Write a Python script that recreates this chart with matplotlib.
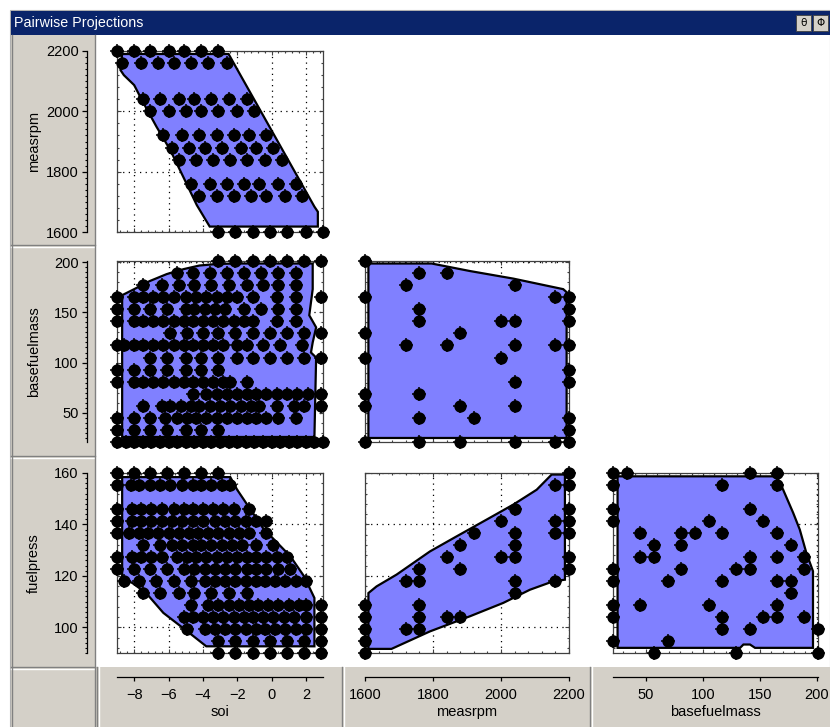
import matplotlib
matplotlib.use("Agg")
import matplotlib.pyplot as plt
from matplotlib.patches import Rectangle
from matplotlib.lines import Line2D
from matplotlib.ticker import MultipleLocator, AutoMinorLocator

W, H = 830, 727

# ---- axis ranges and labels
soi_lim = (-9, 3)
rpm_lim = (1600, 2200)
bf_lim = (21, 201)
fp_lim = (90, 160)

# ---- soi vs measrpm (rows of constant measrpm)
p1_rpm = [2200, 2160, 2040, 2000, 1920, 1880, 1840, 1760, 1720, 1600]
p1_soi = [
    [-9.0, -8.0, -7.1, -6.0, -5.1, -4.1, -3.1],
    [-8.7, -7.6, -6.6, -5.7, -4.7, -3.7, -2.6],
    [-7.5, -6.5, -5.4, -4.5, -3.5, -2.5, -1.4],
    [-7.1, -6.0, -5.0, -4.1, -3.1, -2.0, -1.0],
    [-6.3, -5.2, -4.2, -3.2, -2.2, -1.3, -0.3],
    [-5.8, -4.8, -3.9, -2.9, -1.8, -0.9, 0.1],
    [-5.4, -4.4, -3.4, -2.4, -1.4, -0.4, 0.6],
    [-4.7, -3.6, -2.6, -1.6, -0.7, 0.4, 1.4],
    [-4.2, -3.2, -2.2, -1.2, -0.3, 0.8, 1.8],
    [-3.1, -2.1, -1.1, -0.1, 0.9, 2.0, 3.0],
]
p1_hull_soi = [-8.7, -2.5, 2.5, 2.7, 2.7, -3.6, -4.35, -5.1, -5.9, -6.7, -7.5, -8.0, -8.6, -8.8]
p1_hull_rpm = [2190, 2190, 1684, 1667, 1618, 1618, 1689, 1778, 1872, 1949, 2032, 2087, 2120, 2137]

# ---- soi vs basefuelmass (rows of constant basefuelmass)
p2_bf = [201, 189, 177, 165, 153, 141, 129, 117, 105, 93, 81, 69, 57, 45, 33, 21]
p2_soi = [
    [-3.1, -2.1, -1.1, -0.1, 0.9, 1.9, 2.9],
    [-5.5, -4.6, -3.6, -2.6, -1.6, -0.6, 0.4, 1.4],
    [-7.5, -6.4, -5.4, -4.5, -3.5, -2.5, -1.4, -0.5, 0.4, 1.4],
    [-9.0, -8.0, -7.5, -6.9, -6.3, -5.7, -5.0, -4.4, -3.8, -3.2, -2.6, -2.0, -1.1, 0.3, 1.4, 2.9],
    [-9.0, -8.0, -7.1, -6.1, -5.0, -4.5, -3.9, -3.3, -2.7, -1.6, -0.6, 0.4, 1.4],
    [-9.0, -8.0, -7.5, -6.9, -6.3, -5.7, -5.1, -4.6, -4.0, -3.4, -2.8, -2.2, -1.6, -1.1, 0.3, 1.4],
    [-5.9, -4.9, -4.0, -3.1, -2.1, -1.1, -0.1, 0.9, 1.9, 2.9],
    [-9.0, -8.6, -8.0, -7.5, -6.9, -6.3, -5.7, -5.1, -4.6, -4.0, -3.4, -2.8, -2.0, -1.4, -0.5, 0.5, 1.8],
    [-7.1, -6.1, -5.0, -4.1, -3.1, -2.0, -1.1, -0.1, 0.9, 1.9, 2.9],
    [-9.0, -8.0, -7.1, -6.1, -5.0, -4.1, -3.1],
    [-9.0, -8.0, -7.5, -6.9, -6.3, -5.7, -5.1, -4.6, -4.0, -3.4, -2.8, -2.4, -1.4],
    [-4.6, -3.8, -3.2, -2.6, -2.0, -1.4, -0.9, -0.3, 0.3, 0.9, 1.5, 2.1, 2.9],
    [-7.5, -6.4, -5.9, -5.3, -4.7, -4.2, -3.6, -3.0, -2.4, -1.8, -1.2, -0.7, 0.3, 1.3, 1.9, 2.9],
    [-9.0, -8.0, -7.1, -6.2, -5.5, -4.9, -4.4, -3.8, -3.2, -2.6, -2.0, -1.4, -0.9, -0.3, 0.4, 1.4],
    [-9.0, -8.0, -7.1, -6.1, -5.0, -4.1, -3.1],
    [-9.0, -8.5, -8.0, -7.5, -7.0, -6.5, -6.0, -5.5, -5.0, -4.5, -4.0, -3.5, -3.0,
     -2.5, -2.0, -1.5, -1.0, -0.5, 0.0, 0.5, 1.0, 1.5, 2.0, 2.5, 3.0],
]
p2_hull_soi = [-8.7, -8.7, -8.0, -7.1, -6.1, -5.1, -4.2, -3.2, -2.2, 2.4, 2.4, 2.2, 2.6, 2.4, 2.3, 2.6, 2.5]
p2_hull_bf = [26, 167, 173, 181, 188, 193, 196.5, 198, 198.5, 198.5, 173, 147, 135, 120, 110, 105, 26]

# ---- soi vs fuelpress (rows of constant fuelpress)
p3_fp = [160, 155.3, 146, 141.3, 136.7, 132, 127.3, 122.7, 118, 113.3, 108.7, 104, 99.3, 94.7, 90]
p3_soi = [
    [-9.0, -8.0, -7.1, -6.1, -5.1, -4.1, -3.1],
    [-9.0, -8.2, -7.7, -7.1, -6.5, -5.9, -5.2, -4.6, -4.1, -3.5, -2.9, -2.4],
    [-9.0, -8.1, -7.6, -7.0, -6.4, -5.7, -5.1, -4.6, -4.0, -3.4, -2.8, -2.2, -1.3],
    [-9.0, -8.1, -7.6, -7.0, -6.4, -5.8, -5.2, -4.6, -4.0, -3.3, -2.7, -2.1, -1.5, -0.9, -0.3],
    [-9.0, -8.3, -7.7, -7.2, -6.6, -6.0, -5.4, -4.8, -4.3, -3.7, -3.1, -2.5, -1.9, -1.3, -0.3],
    [-7.5, -6.5, -5.8, -5.2, -4.6, -4.1, -3.5, -2.9, -2.3, -1.7, -0.9, 0.1],
    [-9.0, -8.1, -7.6, -7.0, -6.4, -5.5, -4.9, -4.4, -3.8, -3.2, -2.6, -2.0, -1.4, -0.9, -0.3, 0.3, 0.9],
    [-9.0, -8.0, -7.1, -6.1, -5.1, -4.5, -3.9, -3.3, -2.7, -2.1, -1.4, -0.9, -0.3, 0.4, 1.1],
    [-8.6, -7.7, -6.7, -5.7, -4.7, -3.9, -3.3, -2.7, -2.1, -1.5, -0.9, -0.4, 0.2, 0.8, 1.4, 2.0],
    [-7.5, -6.5, -5.4, -4.5, -3.5, -2.5, -1.4],
    [-4.7, -3.7, -3.1, -2.5, -1.9, -1.3, -0.8, -0.2, 0.4, 1.0, 1.6, 2.0, 2.9],
    [-5.1, -4.6, -4.0, -3.4, -2.8, -2.2, -1.6, -1.1, -0.5, 0.1, 0.7, 1.3, 2.0, 2.9],
    [-4.9, -3.9, -3.3, -2.7, -2.1, -1.5, -0.9, -0.4, 0.2, 0.8, 1.4, 2.0, 2.9],
    [-3.1, -2.1, -1.1, -0.1, 0.9, 1.9, 2.9],
    [-3.1, -2.1, -1.1, -0.1, 0.9, 1.9, 2.9],
]
p3_hull_soi = [-8.7, -2.4, -2.0, -0.5, 1.1, 1.9, 2.5, 2.5, -3.8, -4.9, -6.3, -7.3, -8.1, -8.7]
p3_hull_fp = [158.4, 158.4, 153.5, 138.6, 127.6, 119.8, 111.4, 92.6, 92.6, 98.4, 105.6, 113.3, 117.2, 119.2]

# ---- measrpm vs basefuelmass
p4_rpm = [1600, 1760, 1840, 1720, 2040, 2160, 1600, 2200, 1760, 2200, 1760, 2000, 2040, 2200,
          1600, 1880, 1720, 1840, 2040, 2160, 2200, 1600, 2000, 2200, 2040, 2200, 1600, 1760,
          1600, 1880, 2040, 1760, 1920, 2200, 2200, 1600, 1760, 1880, 2040, 2160, 2200]
p4_bf = [201, 189, 189, 177, 177, 165, 165, 165, 153, 153, 141, 141, 141, 141,
         129, 129, 117, 117, 117, 117, 117, 105, 105, 93, 81, 81, 69, 69,
         57, 57, 57, 45, 45, 45, 33, 21, 21, 21, 21, 21, 21]
p4_hull_rpm = [1610, 1796, 1909, 2036, 2183, 2193, 2193, 1610]
p4_hull_bf = [198.5, 198.5, 191, 183.5, 173, 170, 25, 25]

# ---- measrpm vs fuelpress
p5_rpm = [2200, 2160, 2200, 2200, 2040, 2160, 2200, 2000, 2160, 2200, 2040, 1920, 1880,
          2040, 1840, 2000, 2040, 2200, 1880, 2200, 1760, 1720, 1760, 2160, 2040, 2040,
          1760, 1600, 1600, 1760, 1840, 1880, 1600, 1720, 1760, 1600, 1600]
p5_fp = [160, 155.3, 155.3, 146, 146, 141.3, 141.3, 141.3, 136.7, 136.7, 136.7, 136.7, 132,
         132, 127.3, 127.3, 127.3, 127.3, 122.7, 122.7, 122.7, 118, 118, 118, 118, 113.3,
         108.7, 108.7, 104, 104, 104, 104, 99.3, 99.3, 99.3, 94.7, 90]
p5_hull_rpm = [1610, 1678, 1791, 1909, 2007, 2085, 2154, 2188, 2188, 2149, 2105, 2036, 1958,
               1870, 1791, 1693, 1634, 1610]
p5_hull_fp = [91.6, 91.6, 98.4, 104.3, 109.5, 114.6, 117.9, 118.5, 159.4, 159.4, 153.5, 147.7,
              141.9, 135.4, 129.5, 120.5, 115.9, 113.3]

# ---- basefuelmass vs fuelpress
p6_bf = [21, 33, 141, 165, 21, 117, 165, 141, 21, 21, 105, 153, 45, 81, 93, 117, 165,
         57, 81, 177, 45, 57, 141, 165, 189, 21, 81, 129, 141, 189, 21, 69, 117, 165, 177,
         177, 21, 45, 105, 165, 21, 117, 153, 165, 189, 117, 141, 201, 21, 69, 57, 129, 201]
p6_fp = [160, 160, 160, 160, 155.3, 155.3, 155.3, 146, 146, 141.3, 141.3, 141.3,
         136.7, 136.7, 136.7, 136.7, 136.7, 132, 132, 132, 127.3, 127.3, 127.3, 127.3, 127.3,
         122.7, 122.7, 122.7, 122.7, 122.7, 118, 118, 118, 118, 118, 113.3,
         108.7, 108.7, 108.7, 108.7, 104, 104, 104, 104, 104, 99.3, 99.3, 99.3,
         94.7, 94.7, 90, 90, 90]
p6_hull_bf = [25, 164.6, 170.4, 179.2, 185, 190.8, 196.6, 196.6, 145.7, 141.3, 135.5, 132.6, 25]
p6_hull_fp = [158.7, 158.7, 153.5, 144.5, 138, 128.9, 121.8, 92, 92, 93.3, 93.3, 92, 92]

GRAY = '#d4d0c8'
DARK = '#808080'
FILL = '#8080ff'
FONT = 'Liberation Sans'


def box(x0, y0, x1, y1):
    return [x0 / W, 1 - y1 / H, (x1 - x0) / W, (y1 - y0) / H]


def rect(fig, x0, y0, x1, y1, **kw):
    fig.add_artist(Rectangle((x0 / W, 1 - y1 / H), (x1 - x0) / W, (y1 - y0) / H,
                             transform=fig.transFigure, zorder=-10, **kw))


def hline(fig, x0, x1, y, **kw):
    fig.add_artist(Line2D([x0 / W, x1 / W], [1 - y / H, 1 - y / H],
                          transform=fig.transFigure, zorder=-9, **kw))


def vline(fig, x, y0, y1, **kw):
    fig.add_artist(Line2D([x / W, x / W], [1 - y0 / H, 1 - y1 / H],
                          transform=fig.transFigure, zorder=-9, **kw))


def rows(levels, vals):
    xs, ys = [], []
    for lev, r in zip(levels, vals):
        xs += r
        ys += [lev] * len(r)
    return xs, ys


def panel(fig, pos, xlim, ylim, xstep, ystep, x, y, hx, hy):
    ax = fig.add_axes(box(*pos))
    ax.set_xlim(xlim)
    ax.set_ylim(ylim)
    ax.fill(hx, hy, facecolor=FILL, edgecolor='black', lw=1.6, zorder=2)
    ax.plot(x, y, 'o', color='black', ms=8.9, mew=0, clip_on=False, zorder=4)
    ax.plot(x, y, '+', color='black', ms=10.3, mew=1.1, clip_on=False, zorder=4)
    ax.xaxis.set_major_locator(MultipleLocator(xstep))
    ax.yaxis.set_major_locator(MultipleLocator(ystep))
    ax.xaxis.set_minor_locator(AutoMinorLocator(5))
    ax.yaxis.set_minor_locator(AutoMinorLocator(5))
    ax.grid(True, which='major', color='black', lw=0.9, ls=(0, (1, 3.5)), zorder=1)
    ax.tick_params(which='both', direction='in', top=True, right=True,
                   labelbottom=False, labelleft=False, color='#404040')
    ax.tick_params(which='major', length=3, width=0.8)
    ax.tick_params(which='minor', length=1.5, width=0.8)
    for s in ax.spines.values():
        s.set_color('#404040')
        s.set_linewidth(0.9)
    ax.set_axisbelow(True)
    return ax


fig = plt.figure(figsize=(W / 100, H / 100), dpi=100, facecolor='white')

# window chrome
rect(fig, 10, 10, 830, 727, facecolor='white', edgecolor='#b0b0b0', lw=0.8)
rect(fig, 11, 11, 830, 35, facecolor='#0a246a', edgecolor='none')
fig.text(14 / W, 1 - 23 / H, 'Pairwise Projections', color='white', fontsize=10.3,
         family=FONT, va='center', ha='left')
for bx, glyph in [(796, '\u03b8'), (813, '\u03a6')]:
    rect(fig, bx, 15, bx + 15, 31, facecolor=GRAY, edgecolor='#404040', lw=0.6)
    fig.text((bx + 7.5) / W, 1 - 23 / H, glyph, fontsize=7.5, ha='center', va='center',
             family='DejaVu Sans', color='black')

# gray label areas
rect(fig, 11, 35, 95, 727, facecolor=GRAY, edgecolor='none')
rect(fig, 95, 667, 830, 727, facecolor=GRAY, edgecolor='none')
for yy in (245, 456, 667):
    hline(fig, 11, 95, yy, color=DARK, lw=1.0)
    hline(fig, 11, 95, yy + 1.5, color='white', lw=1.0)
vline(fig, 11.5, 35, 727, color=DARK, lw=1.0)
vline(fig, 94.5, 35, 727, color=DARK, lw=1.0)
for xx in (97, 342, 590):
    vline(fig, xx, 667, 727, color=DARK, lw=1.0)
    vline(fig, xx + 1.5, 667, 727, color='white', lw=1.0)

cols = [(117, 323), (365, 569), (613, 818)]
rws = [(51, 232), (261, 442), (473, 653)]
lims = {'soi': soi_lim, 'measrpm': rpm_lim, 'basefuelmass': bf_lim, 'fuelpress': fp_lim}
steps = {'soi': 2, 'measrpm': 200, 'basefuelmass': 50, 'fuelpress': 20}

x1, y1 = rows(p1_rpm, p1_soi)
x2, y2 = rows(p2_bf, p2_soi)
x3, y3 = rows(p3_fp, p3_soi)

panels = [
    (0, 0, 'soi', 'measrpm', x1, y1, p1_hull_soi, p1_hull_rpm),
    (1, 0, 'soi', 'basefuelmass', x2, y2, p2_hull_soi, p2_hull_bf),
    (2, 0, 'soi', 'fuelpress', x3, y3, p3_hull_soi, p3_hull_fp),
    (1, 1, 'measrpm', 'basefuelmass', p4_rpm, p4_bf, p4_hull_rpm, p4_hull_bf),
    (2, 1, 'measrpm', 'fuelpress', p5_rpm, p5_fp, p5_hull_rpm, p5_hull_fp),
    (2, 2, 'basefuelmass', 'fuelpress', p6_bf, p6_fp, p6_hull_bf, p6_hull_fp),
]
for r, c, xn, yn, x, y, hx, hy in panels:
    panel(fig, (cols[c][0], rws[r][0], cols[c][1], rws[r][1]), lims[xn], lims[yn],
          steps[xn], steps[yn], x, y, hx, hy)

# left tick axes
for r, yn in enumerate(['measrpm', 'basefuelmass', 'fuelpress']):
    ax = fig.add_axes(box(87, rws[r][0], 88, rws[r][1]))
    ax.patch.set_visible(False)
    ax.set_ylim(lims[yn])
    ax.yaxis.set_major_locator(MultipleLocator(steps[yn]))
    ax.yaxis.set_minor_locator(AutoMinorLocator(10))
    ax.set_xticks([])
    for k in ('top', 'right', 'bottom'):
        ax.spines[k].set_visible(False)
    ax.spines['left'].set_linewidth(0.9)
    ax.tick_params(axis='y', which='major', length=3.5, width=0.9, pad=2.5, labelsize=10.5)
    ax.tick_params(axis='y', which='minor', length=1.8, width=0.8)
    for t in ax.get_yticklabels():
        t.set_family(FONT)
    fig.text(34 / W, 1 - (rws[r][0] + rws[r][1]) / 2 / H, yn, rotation=90,
             ha='center', va='center', family=FONT, fontsize=10.5)

# bottom tick axes
for c, xn in enumerate(['soi', 'measrpm', 'basefuelmass']):
    ax = fig.add_axes(box(cols[c][0], 676, cols[c][1], 677))
    ax.patch.set_visible(False)
    ax.set_xlim(lims[xn])
    ax.xaxis.set_major_locator(MultipleLocator(steps[xn]))
    ax.set_yticks([])
    for k in ('top', 'right', 'left'):
        ax.spines[k].set_visible(False)
    ax.spines['bottom'].set_linewidth(0.9)
    ax.tick_params(axis='x', which='major', length=3, width=0.9, pad=5, labelsize=10.5)
    for t in ax.get_xticklabels():
        t.set_family(FONT)
    ax.set_xlabel(xn, family=FONT, fontsize=10.5, labelpad=2)

fig.savefig('out.png', dpi=100, facecolor=fig.get_facecolor())
